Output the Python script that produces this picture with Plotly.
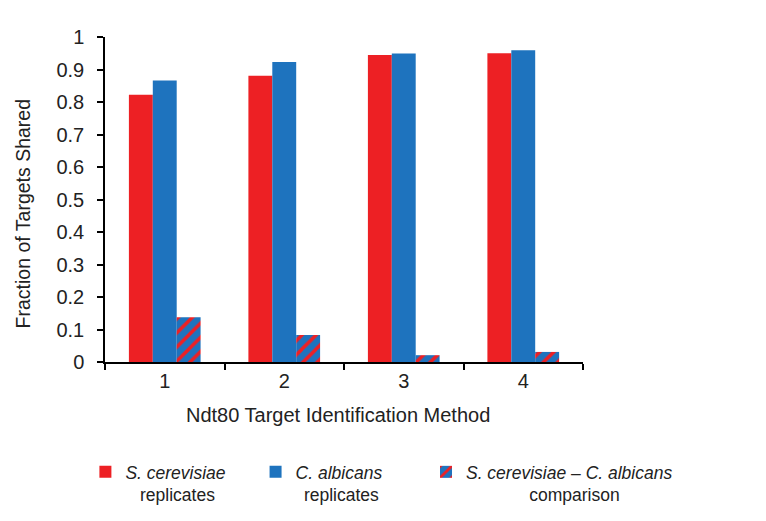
import plotly.graph_objects as go

categories = ["1", "2", "3", "4"]
sc_replicates = [0.822, 0.881, 0.945, 0.950]
ca_replicates = [0.866, 0.923, 0.949, 0.959]
sc_ca_comparison = [0.138, 0.083, 0.021, 0.031]
y_ticks = [0, 0.1, 0.2, 0.3, 0.4, 0.5, 0.6, 0.7, 0.8, 0.9, 1]
y_tick_text = ["0", "0.1", "0.2", "0.3", "0.4", "0.5", "0.6", "0.7", "0.8", "0.9", "1"]

RED = "#ED2024"
BLUE = "#1E73BE"
FONT = "Liberation Sans, Arial, sans-serif"
TXT = "#222222"
NB = "\u00a0"

fig = go.Figure()
fig.add_trace(go.Bar(
    x=categories, y=sc_replicates,
    name="<i>S. cerevisiae</i><br>" + NB * 3 + "replicates",
    marker=dict(color=RED, line=dict(width=0)),
    legend="legend",
))
fig.add_trace(go.Bar(
    x=categories, y=ca_replicates,
    name="<i>C. albicans</i><br>" + NB + "\u2009replicates",
    marker=dict(color=BLUE, line=dict(width=0)),
    legend="legend2",
))
fig.add_trace(go.Bar(
    x=categories, y=sc_ca_comparison,
    name="<i>S. cerevisiae</i> – <i>C. albicans</i><br>" + NB * 13 + "comparison",
    marker=dict(color=BLUE, line=dict(width=0),
                pattern=dict(shape="/", fgcolor=RED, bgcolor=BLUE,
                             size=10, solidity=0.35, fillmode="replace")),
    legend="legend3",
))

def leg(x):
    return dict(orientation="h", x=x, xanchor="left", y=-0.283, yanchor="top",
                valign="top", font=dict(family=FONT, size=17.5, color=TXT),
                bgcolor="rgba(0,0,0,0)")

tick_font = dict(family=FONT, size=20, color=TXT)

fig.update_layout(
    width=766, height=521,
    margin=dict(l=97, r=191, t=29, b=167),
    paper_bgcolor="white", plot_bgcolor="white",
    barmode="group", bargap=0.4, bargroupgap=0,
    font=dict(family=FONT, size=17, color=TXT),
    showlegend=True,
    legend=leg(-0.041),
    legend2=leg(0.315),
    legend3=leg(0.6715),
    xaxis=dict(
        type="category", range=[-0.5, 3.5],
        showline=True, linecolor="black", linewidth=1.5,
        ticks="outside", tickson="boundaries", ticklen=6, tickcolor="black", tickwidth=1.5,
        showgrid=False, zeroline=False,
        tickfont=tick_font,
    ),
    yaxis=dict(
        range=[0, 1], tickvals=y_ticks, ticktext=y_tick_text,
        showline=True, linecolor="black", linewidth=1.5,
        ticks="outside", ticklen=6, tickcolor="black", tickwidth=1.5,
        ticklabelstandoff=9,
        showgrid=False, zeroline=False,
        tickfont=tick_font,
    ),
    annotations=[
        dict(text="Ndt80 Target Identification Method", xref="paper", yref="paper",
             x=0.487, y=-0.163, xanchor="center", yanchor="middle", showarrow=False,
             font=dict(family=FONT, size=20, color=TXT)),
        dict(text="Fraction of Targets Shared", xref="paper", yref="paper",
             x=-0.171, y=0.455, xanchor="center", yanchor="middle", showarrow=False,
             textangle=-90, font=dict(family=FONT, size=19.5, color=TXT)),
    ],
)

fig.write_html("out.html")
